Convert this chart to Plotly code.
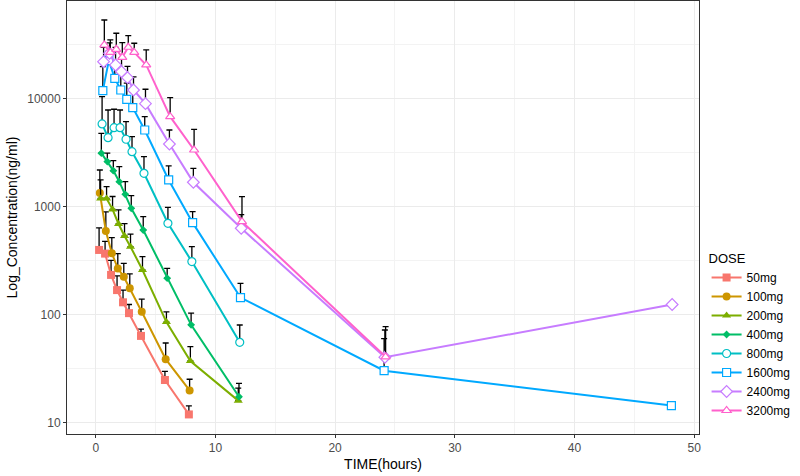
import plotly.graph_objects as go

doses = ["50mg", "100mg", "200mg", "400mg", "800mg", "1600mg", "2400mg", "3200mg"]
colors = ["#F8766D", "#CD9600", "#7CAE00", "#00BE67", "#00BFC4", "#00A9FF", "#C77CFF", "#FF61CC"]
symbols = ["square", "circle", "triangle-up", "diamond", "circle", "square", "diamond", "triangle-up"]
hollow = [False, False, False, False, True, True, True, True]

t9 = [0.5, 1, 1.5, 2, 2.5, 3, 4, 6, 8]
t10 = [0.5, 1, 1.5, 2, 2.5, 3, 4, 6, 8, 12]
t11 = [0.5, 1, 1.5, 2, 2.5, 3, 4, 6, 8, 12, 24]
t12 = [0.5, 1, 1.5, 2, 2.5, 3, 4, 6, 8, 12, 24, 48]

times = [t9, t9, t10, t10, t10, t12, t12, t11]

mean_50 = [400, 370, 235, 170, 131, 104, 64, 25, 12]
sd_50 = [240, 110, 85, 60, 39, 21, 10, 5, 2.4]
mean_100 = [1350, 600, 373, 270, 226, 177, 107, 39, 20]
sd_100 = [850, 300, 147, 100, 74, 63, 33, 16, 5.4]
mean_200 = [1200, 1200, 950, 696, 539, 429, 261, 86, 37.5, 16.1]
sd_200 = [580, 340, 300, 242, 161, 131, 86, 21, 13.5, 4.9]
mean_400 = [3150, 2630, 2170, 1715, 1310, 972, 612, 219, 81, 17.5]
sd_400 = [1660, 520, 520, 645, 405, 301, 201, 51, 23, 5.8]
mean_800 = [5870, 4385, 5420, 5420, 4235, 3250, 2050, 706, 312, 55.8]
sd_800 = [4630, 3515, 2610, 2480, 1925, 1230, 870, 287, 118, 25]
mean_1600 = [11940, 22640, 15540, 12110, 9930, 8310, 5160, 1778, 716, 145, 30.5, 14.5]
sd_1600 = [8010, 5360, 6460, 5890, 4070, 3190, 1700, 622, 188, 51, 30, None]
mean_2400 = [22140, 26500, 20650, 17900, 15750, 12110, 9050, 3830, 1693, 635, 40.6, 125]
sd_2400 = [7860, 6500, 9350, 6100, 4250, 3890, 3250, 1330, 587, 215, 32, None]
mean_3200 = [31600, 27000, 28840, 24320, 30100, 27000, 20650, 6860, 3370, 731, 41]
sd_3200 = [22250, 8200, 11760, 8880, 8450, 5800, 7780, 3420, 1870, 514, 37]

means = [mean_50, mean_100, mean_200, mean_400, mean_800, mean_1600, mean_2400, mean_3200]
sds = [sd_50, sd_100, sd_200, sd_400, sd_800, sd_1600, sd_2400, sd_3200]

x_ticks = [0, 10, 20, 30, 40, 50]
y_ticks = [10, 100, 1000, 10000]
y_minor = [10 ** 1.5, 10 ** 2.5, 10 ** 3.5, 10 ** 4.5]

FONT = "Liberation Sans, Arial, sans-serif"
dodge = 0.5  # position_dodge width (hours)

fig = go.Figure()
n = len(doses)
for i in range(n):
    off = (i - (n - 1) / 2) * dodge / n
    xs = [t + off for t in times[i]]
    ups = [s if s is not None else float("nan") for s in sds[i]]
    if hollow[i]:
        size = 8 if symbols[i] != "diamond" else 9
        marker = dict(symbol=symbols[i], color="white", size=size,
                      line=dict(width=1.2, color=colors[i]))
    else:
        size = 6 if symbols[i] == "diamond" else 8
        marker = dict(symbol=symbols[i], color=colors[i], size=size,
                      line=dict(width=0, color=colors[i]))
    fig.add_trace(go.Scatter(
        x=xs, y=means[i], name=doses[i], mode="lines+markers",
        line=dict(color=colors[i], width=2),
        marker=marker,
        error_y=dict(type="data", symmetric=False, array=ups,
                     arrayminus=[0] * len(ups), color="black",
                     thickness=1.3, width=3),
    ))

fig.update_layout(
    width=800, height=476,
    margin=dict(l=67, r=101, t=1, b=42),
    paper_bgcolor="white", plot_bgcolor="white",
    font=dict(family=FONT, size=11, color="#4D4D4D"),
    legend=dict(title=dict(text="DOSE", font=dict(size=13, color="black")),
                font=dict(size=12, color="black"),
                x=1.012, xanchor="left", y=0.434, yanchor="top",
                itemwidth=30,
                bgcolor="rgba(0,0,0,0)", tracegroupgap=0),
    showlegend=True,
)
fig.update_xaxes(
    range=[-2.4, 50.4], tickvals=x_ticks, ticktext=[str(v) for v in x_ticks],
    showgrid=True, gridcolor="#EBEBEB", gridwidth=1.1,
    minor=dict(tickvals=[5, 15, 25, 35, 45], showgrid=True, gridcolor="#F3F3F3", gridwidth=0.6, ticklen=0),
    zeroline=False, showline=True, linecolor="#333333", linewidth=1, mirror=True,
    ticks="outside", ticklen=3, tickcolor="#333333", tickwidth=1,
    tickfont=dict(size=12, color="#4D4D4D"),
    title=dict(text="TIME(hours)", font=dict(size=14, color="black"), standoff=4),
)
fig.update_yaxes(
    type="log", range=[0.898, 4.907], tickvals=y_ticks, ticktext=[str(v) for v in y_ticks],
    showgrid=True, gridcolor="#EBEBEB", gridwidth=1.1,
    minor=dict(tickvals=y_minor, showgrid=True, gridcolor="#F3F3F3", gridwidth=0.6, ticklen=0),
    zeroline=False, showline=True, linecolor="#333333", linewidth=1, mirror=True,
    ticks="outside", ticklen=3, tickcolor="#333333", tickwidth=1,
    tickfont=dict(size=12, color="#4D4D4D"),
    title=dict(text="Log_Concentration(ng/ml)", font=dict(size=14, color="black"), standoff=6),
)

fig.write_html("out.html", config={"displayModeBar": False},
               post_script="document.body.style.margin='0';document.body.style.overflow='hidden';")
